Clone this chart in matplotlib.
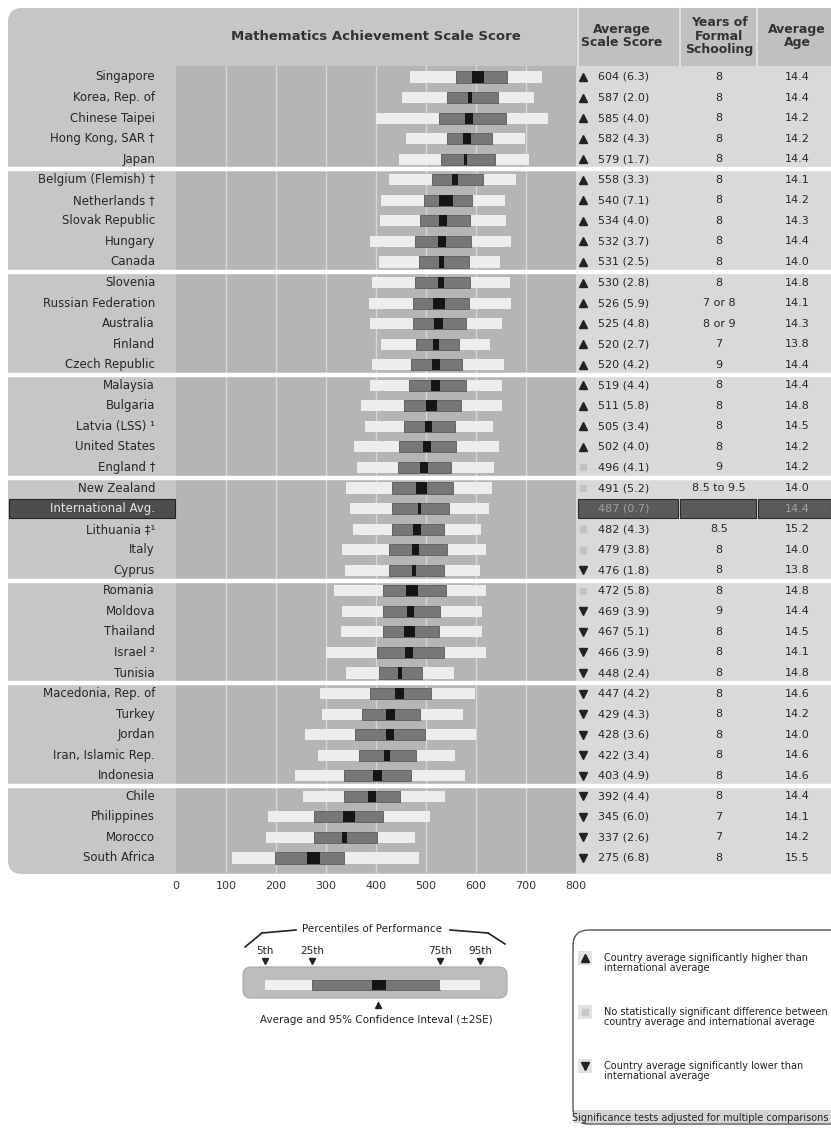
import matplotlib
matplotlib.use("Agg")
from matplotlib import pyplot as plt
from matplotlib import transforms
from matplotlib.patches import Rectangle, FancyBboxPatch
from matplotlib.lines import Line2D
import numpy as np

# %% data read off the exhibit
countries = [
    "Singapore", "Korea, Rep. of", "Chinese Taipei", "Hong Kong, SAR \u2020", "Japan",
    "Belgium (Flemish) \u2020", "Netherlands \u2020", "Slovak Republic", "Hungary", "Canada",
    "Slovenia", "Russian Federation", "Australia", "Finland", "Czech Republic",
    "Malaysia", "Bulgaria", "Latvia (LSS) \u00b9", "United States", "England \u2020",
    "New Zealand", "International Avg.", "Lithuania \u2021\u00b9", "Italy", "Cyprus",
    "Romania", "Moldova", "Thailand", "Israel \u00b2", "Tunisia",
    "Macedonia, Rep. of", "Turkey", "Jordan", "Iran, Islamic Rep.", "Indonesia",
    "Chile", "Philippines", "Morocco", "South Africa",
]
p5 = [467, 452, 400, 459, 445, 425, 410, 407, 388, 405,
      391, 385, 388, 410, 391, 388, 369, 378, 355, 362,
      340, 347, 353, 332, 337, 315, 332, 329, 300, 340,
      288, 291, 258, 283, 238, 253, 183, 179, 112]
p25 = [559, 541, 525, 541, 529, 511, 495, 488, 478, 485,
       478, 473, 473, 480, 469, 465, 455, 455, 445, 443,
       432, 432, 432, 425, 425, 413, 413, 413, 402, 405,
       388, 372, 358, 365, 335, 335, 275, 275, 198]
p75 = [662, 643, 659, 632, 637, 613, 591, 588, 590, 585,
       587, 585, 579, 565, 572, 579, 569, 558, 560, 550,
       553, 545, 535, 542, 535, 539, 528, 525, 535, 491,
       510, 487, 498, 480, 469, 447, 413, 401, 335]
p95 = [731, 715, 743, 697, 705, 679, 657, 660, 670, 648,
       667, 670, 651, 627, 655, 651, 651, 633, 645, 635,
       632, 625, 610, 619, 608, 619, 611, 611, 619, 555,
       597, 573, 599, 558, 577, 537, 507, 478, 485]
mean = [604, 587, 585, 582, 579, 558, 540, 534, 532, 531,
        530, 526, 525, 520, 520, 519, 511, 505, 502, 496,
        491, 487, 482, 479, 476, 472, 469, 467, 466, 448,
        447, 429, 428, 422, 403, 392, 345, 337, 275]
se = [6.3, 2.0, 4.0, 4.3, 1.7, 3.3, 7.1, 4.0, 3.7, 2.5,
      2.8, 5.9, 4.8, 2.7, 4.2, 4.4, 5.8, 3.4, 4.0, 4.1,
      5.2, 0.7, 4.3, 3.8, 1.8, 5.8, 3.9, 5.1, 3.9, 2.4,
      4.2, 4.3, 3.6, 3.4, 4.9, 4.4, 6.0, 2.6, 6.8]
years = ["8", "8", "8", "8", "8", "8", "8", "8", "8", "8",
         "8", "7 or 8", "8 or 9", "7", "9", "8", "8", "8", "8", "9",
         "8.5 to 9.5", "", "8.5", "8", "8", "8", "9", "8", "8", "8",
         "8", "8", "8", "8", "8", "8", "7", "7", "8"]
age = [14.4, 14.4, 14.2, 14.2, 14.4, 14.1, 14.2, 14.3, 14.4, 14.0,
       14.8, 14.1, 14.3, 13.8, 14.4, 14.4, 14.8, 14.5, 14.2, 14.2,
       14.0, 14.4, 15.2, 14.0, 13.8, 14.8, 14.4, 14.5, 14.1, 14.8,
       14.6, 14.2, 14.0, 14.6, 14.6, 14.4, 14.1, 14.2, 15.5]
# 1 = significantly higher, 0 = no difference, -1 = significantly lower, None = the average itself
sig = [1] * 19 + [0, 0, None, 0, 0, -1, 0] + [-1] * 13
intl_row = 21
group_breaks = [4.5, 9.5, 14.5, 19.5, 24.5, 29.5, 34.5]
ticks = [0, 100, 200, 300, 400, 500, 600, 700, 800]

# %% figure and background
W, H = 831, 1128
fig = plt.figure(figsize=(W / 100, H / 100), dpi=100)
plt.rcParams['font.family'] = ['DejaVu Sans']

bg = fig.add_axes([0, 0, 1, 1])
bg.set_xlim(0, W)
bg.set_ylim(H, 0)
bg.axis('off')

bg.add_patch(FancyBboxPatch((8, 8), 840, 866, boxstyle="round,pad=0,rounding_size=14",
                            fc='#c6c6c6', ec='none'))
bg.add_patch(Rectangle((576, 8), 255, 58, fc='#c0c0c0', ec='none'))
bg.add_patch(Rectangle((576, 66), 255, 808, fc='#d9d9d9', ec='none'))
for x in [578, 680, 757]:
    bg.plot([x, x], [8, 66], color='#e6e6e6', lw=1.2)

bg.text(376, 36, "Mathematics Achievement Scale Score", ha='center', va='center',
        fontsize=9.5, fontweight='bold', color='#333333')
bg.text(622, 36, "Average\nScale Score", ha='center', va='center', fontsize=9,
        fontweight='bold', color='#333333', linespacing=1.0)
bg.text(719, 36, "Years of\nFormal\nSchooling", ha='center', va='center', fontsize=9,
        fontweight='bold', color='#333333', linespacing=1.0)
bg.text(797, 36, "Average\nAge", ha='center', va='center', fontsize=9,
        fontweight='bold', color='#333333', linespacing=1.0)

# %% main bars
ax = fig.add_axes([176 / W, 1 - 873 / H, 400 / W, (873 - 66) / H])
ax.set_facecolor('#b5b5b5')
ax.set_xlim(0, 800)
ax.set_ylim(38.73, -0.535)
for s in ax.spines.values():
    s.set_visible(False)
ax.set_yticks([])
ax.set_xticks(ticks)
ax.tick_params(axis='x', length=0, pad=6, labelsize=8, labelcolor='#333333')
for t in ticks[1:-1]:
    ax.axvline(t, color='#d6d6d6', lw=1, zorder=0.5)

y = np.arange(len(countries))
p5a, p25a, p75a, p95a = map(np.array, (p5, p25, p75, p95))
mean_a, se_a = np.array(mean), np.array(se)
h = 0.54
ax.barh(y, p25a - p5a, left=p5a, height=h, color='#ededed', zorder=2)
ax.barh(y, p95a - p75a, left=p75a, height=h, color='#ededed', zorder=2)
ax.barh(y, p75a - p25a, left=p25a, height=h, color='#777777', edgecolor='#5c5c5c', lw=0.6, zorder=2)
half = np.maximum(2 * se_a, 3)
ax.barh(y, 2 * half, left=mean_a - half, height=h, color='#151515', zorder=3)

# rows: x in figure pixels, y in row units
tr = transforms.blended_transform_factory(bg.transData, ax.transData)

for yb in group_breaks:
    ax.add_line(Line2D([8, 831], [yb, yb], transform=tr, color='white', lw=3.2,
                       clip_on=False, zorder=5))

for i, name in enumerate(countries):
    if i == intl_row:
        ax.add_patch(Rectangle((9, i - 0.47), 166, 0.94, transform=tr, fc='#4d4d4d',
                               ec='#222222', lw=0.8, clip_on=False, zorder=4))
        for x0, x1 in [(578, 678), (680, 756), (758, 831)]:
            ax.add_patch(Rectangle((x0, i - 0.47), x1 - x0, 0.94, transform=tr, fc='#5a5a5a',
                                   ec='#2a2a2a', lw=0.8, clip_on=False, zorder=4))
        ax.text(155, i, name, transform=tr, ha='right', va='center', fontsize=8.5,
                color='#e8e8e8', zorder=6)
        txtcol = '#a0a0a0'
    else:
        ax.text(155, i, name, transform=tr, ha='right', va='center', fontsize=8.5,
                color='#262626', zorder=6)
        txtcol = '#262626'
    ax.text(598, i, f"{mean[i]} ({se[i]:.1f})", transform=tr, ha='left', va='center',
            fontsize=8, color=txtcol, zorder=6)
    ax.text(719, i, years[i], transform=tr, ha='center', va='center', fontsize=8,
            color=txtcol, zorder=6)
    ax.text(797, i, f"{age[i]:.1f}", transform=tr, ha='center', va='center', fontsize=8,
            color=txtcol, zorder=6)
    if sig[i] == 1:
        ax.plot([583], [i], transform=tr, marker='^', ms=6, color='#222222', clip_on=False, zorder=6)
    elif sig[i] == -1:
        ax.plot([583], [i], transform=tr, marker='v', ms=6, color='#222222', clip_on=False, zorder=6)
    elif sig[i] == 0:
        ax.plot([583], [i], transform=tr, marker='s', ms=4, color='#c2c2c2', clip_on=False, zorder=6)

# %% percentile key
bg.add_patch(FancyBboxPatch((243, 967), 264, 31, boxstyle="round,pad=0,rounding_size=8",
                            fc='#bdbdbd', ec='#a8a8a8', lw=0.8))
bg.add_patch(Rectangle((265, 980), 47, 10, fc='#f0f0f0', ec='none'))
bg.add_patch(Rectangle((312, 980), 128, 10, fc='#777777', ec='#5c5c5c', lw=0.6))
bg.add_patch(Rectangle((372, 980), 14, 10, fc='#151515', ec='none'))
bg.add_patch(Rectangle((440, 980), 40, 10, fc='#f0f0f0', ec='none'))
for x, lab in [(265, "5th"), (312, "25th"), (440, "75th"), (480, "95th")]:
    bg.text(x, 951, lab, ha='center', va='center', fontsize=7.5, color='#222222')
    bg.plot([x], [961], marker='v', ms=5, color='#222222')
bg.text(372, 929, "Percentiles of Performance", ha='center', va='center', fontsize=7.5,
        color='#222222')
t = np.linspace(0, 1, 30)
bg.plot(245 + 17 * t ** 0.5, 947 - 14 * t ** 0.5, color='#222222', lw=1.2)
bg.plot([262, 296], [933, 930], color='#222222', lw=1.2)
bg.plot([450, 488], [930, 933], color='#222222', lw=1.2)
bg.plot(488 + 17 * t ** 2, 933 + 11 * t ** 2, color='#222222', lw=1.2)
bg.plot([378], [1005], marker='^', ms=5, color='#222222')
bg.text(376, 1020, "Average and 95% Confidence Inteval (\u00b12SE)", ha='center', va='center',
        fontsize=7.5, color='#222222')

# %% significance key
bg.add_patch(FancyBboxPatch((573, 930), 280, 194, boxstyle="round,pad=0,rounding_size=16",
                            fc='white', ec='#555555', lw=1.0))
bg.add_patch(Rectangle((574, 1110), 257, 13, fc='#d4d4d4', ec='none'))
bg.text(700, 1118, "Significance tests adjusted for multiple comparisons", ha='center',
        va='center', fontsize=7, color='#222222')
keys = [
    (959, '^', '#222222', "Country average significantly higher than\ninternational average"),
    (1013, 's', '#c8c8c8', "No statistically significant difference between\ncountry average and international average"),
    (1067, 'v', '#222222', "Country average significantly lower than\ninternational average"),
]
for yk, mk, col, txt in keys:
    bg.add_patch(Rectangle((578, yk - 8), 14, 14, fc='#e2e2e2', ec='none'))
    bg.plot([585], [yk - 1], marker=mk, ms=6 if mk != 's' else 4, color=col)
    bg.text(604, yk + 4, txt, ha='left', va='center', fontsize=7, color='#222222',
            linespacing=1.05)

fig.savefig("out.png", dpi=100)
